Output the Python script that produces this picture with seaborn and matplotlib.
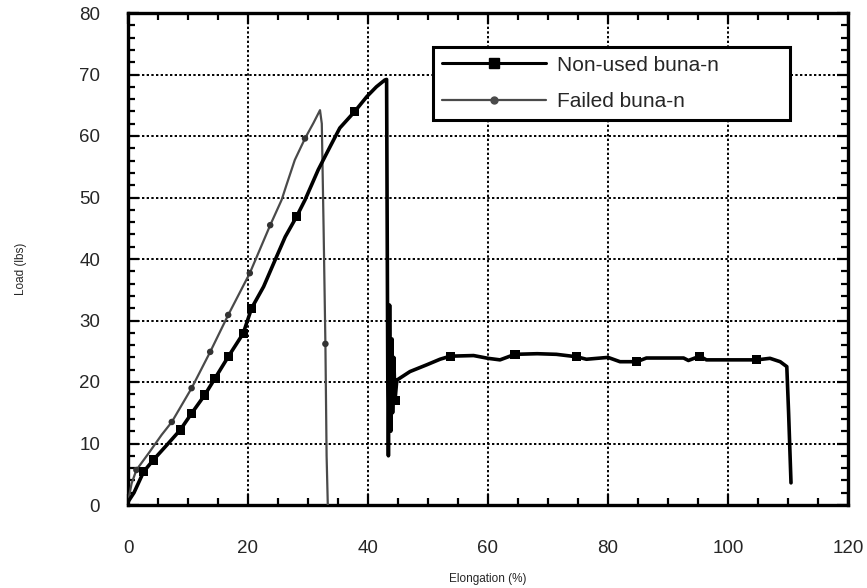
import pandas as pd
import seaborn as sns
import matplotlib.pyplot as plt
from matplotlib.lines import Line2D
from matplotlib.ticker import MultipleLocator

# ---------------- Data ----------------
nonused_x = [0, 1.0, 2.6, 4.2, 6.7, 8.7, 10.6, 12.8, 14.5, 16.7, 19.2, 20.6, 22.6,
             24.5, 26.2, 28.1, 29.5, 31.7, 33.7, 35.3, 37.8, 39.8, 41.4, 42.8, 43.1,
             43.3, 43.4, 43.6, 43.8, 44.0, 44.1, 44.3, 44.5, 44.8, 47.0, 49.8, 52.0,
             53.7, 57.6, 60.0, 62.0, 64.5, 68.2, 71.4, 74.8, 76.4, 80.0, 82.0, 84.8,
             86.4, 92.6, 93.4, 95.3, 96.4, 104.8, 107.0, 108.7, 109.8, 110.1, 110.5]
nonused_y = [0.5, 2.0, 5.4, 7.3, 10.0, 12.2, 14.9, 17.9, 20.6, 24.1, 27.9, 32.0, 35.5,
             39.8, 43.6, 46.9, 49.6, 54.5, 58.3, 61.3, 64.0, 66.4, 68.0, 69.1, 69.2,
             20.0, 8.0, 32.5, 12.0, 27.0, 15.0, 24.0, 17.0, 20.3, 21.7, 22.8, 23.7,
             24.2, 24.3, 23.85, 23.6, 24.5, 24.6, 24.5, 24.1, 23.7, 24.0, 23.3, 23.3,
             23.9, 23.9, 23.5, 24.2, 23.6, 23.6, 23.85, 23.3, 22.5, 15.0, 3.6]
nonused_marks = [2, 3, 5, 6, 7, 8, 9, 10, 11, 15, 20, 32, 37, 41, 44, 48, 52, 54]

failed_x = [0, 0.6, 1.4, 3.5, 5.6, 7.3, 10.6, 13.7, 16.7, 20.3, 23.7, 25.6, 26.4,
            27.8, 29.5, 30.9, 32.0, 32.3, 32.6, 32.9, 33.1, 33.3]
failed_y = [0.5, 3.5, 5.7, 8.5, 11.4, 13.5, 19.0, 24.9, 30.9, 37.7, 45.5, 49.6, 52.0,
            56.1, 59.6, 62.1, 64.2, 62.0, 45.0, 26.2, 8.0, 0.0]
failed_marks = [2, 5, 6, 7, 8, 9, 10, 14, 19]

labels = ["Non-used buna-n", "Failed buna-n"]

nonused = pd.DataFrame({"Elongation": nonused_x, "Load": nonused_y})
failed = pd.DataFrame({"Elongation": failed_x, "Load": failed_y})

# ---------------- Style ----------------
sns.set_style("ticks")
plt.rcParams["font.family"] = ["Liberation Sans", "DejaVu Sans"]

fig = plt.figure(figsize=(8.67, 5.88), dpi=100)
ax = fig.add_axes([128 / 867, 83 / 588, 720 / 867, 492 / 588])

# ---------------- Curves ----------------
sns.lineplot(data=failed, x="Elongation", y="Load", ax=ax, color="#4a4a4a",
             linewidth=1.6, sort=False, estimator=None, zorder=3)
sns.lineplot(data=nonused, x="Elongation", y="Load", ax=ax, color="black",
             linewidth=2.6, sort=False, estimator=None, zorder=4)
sns.scatterplot(data=failed.iloc[failed_marks], x="Elongation", y="Load", ax=ax,
                color="#333333", marker="o", s=22, edgecolor="none", zorder=5)
sns.scatterplot(data=nonused.iloc[nonused_marks], x="Elongation", y="Load", ax=ax,
                color="black", marker="s", s=44, edgecolor="none", zorder=6)

# ---------------- Axes ----------------
ax.set_xlim(0, 120)
ax.set_ylim(0, 80)
ax.xaxis.set_major_locator(MultipleLocator(20))
ax.xaxis.set_minor_locator(MultipleLocator(5))
ax.yaxis.set_major_locator(MultipleLocator(10))
ax.yaxis.set_minor_locator(MultipleLocator(2))
ax.grid(True, which="major", color="black", linestyle=(0, (1.2, 1.2)), linewidth=1.4)
for s in ax.spines.values():
    s.set_visible(True)
    s.set_linewidth(2.4)
    s.set_color("black")
ax.tick_params(which="both", direction="in", top=True, right=True, color="black",
               width=1.6, labelsize=13.5)
ax.tick_params(which="major", length=8)
ax.tick_params(which="minor", length=5)
ax.tick_params(axis="x", which="major", pad=25)
ax.tick_params(axis="y", which="major", pad=20)

ax.set_xlabel("Elongation (%)", fontsize=8.5)
ax.set_ylabel("Load (lbs)", fontsize=8.5)
ax.xaxis.set_label_coords(0.5, -0.138)
ax.yaxis.set_label_coords(-0.14, 0.48)

# ---------------- Legend ----------------
handles = [
    Line2D([], [], color="black", linewidth=2.2, marker="s", markersize=7),
    Line2D([], [], color="#4a4a4a", linewidth=1.6, marker="o", markersize=5),
]
leg = ax.legend(handles, labels, loc="upper left",
                bbox_to_anchor=(0.424, 0.787, 0.495, 0.144), mode="expand",
                borderaxespad=0, fontsize=15, handlelength=5.0, fancybox=False,
                framealpha=1, edgecolor="black", borderpad=0.42, labelspacing=0.85,
                handletextpad=0.5)
leg.get_frame().set_linewidth(2.2)

fig.savefig("out.png", dpi=100)
